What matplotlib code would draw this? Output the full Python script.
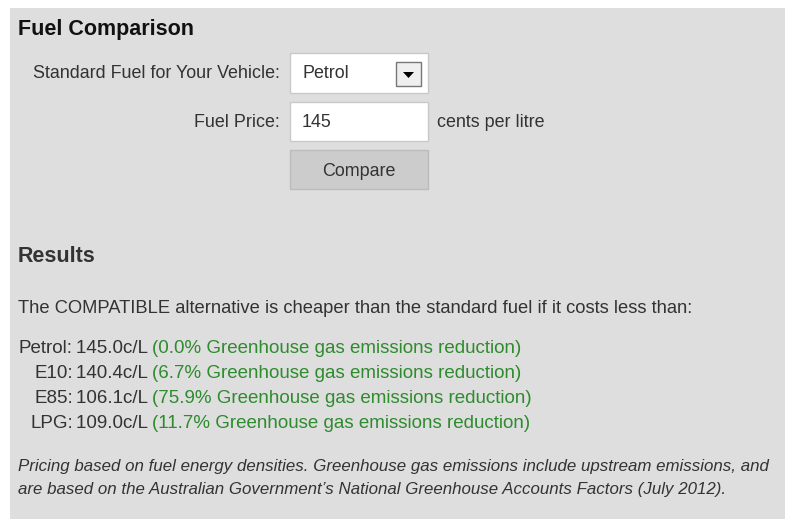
import matplotlib.pyplot as plt
from matplotlib.patches import Rectangle, Polygon

# form content
title = 'Fuel Comparison'
fuel_label = 'Standard Fuel for Your Vehicle:'
fuel_choice = 'Petrol'
price_label = 'Fuel Price:'
price_value = '145'
price_unit = 'cents per litre'
button_text = 'Compare'
results_title = 'Results'
intro = 'The COMPATIBLE alternative is cheaper than the standard fuel if it costs less than:'
fuels = ['Petrol', 'E10', 'E85', 'LPG']
prices = [145.0, 140.4, 106.1, 109.0]
reductions = [0.0, 6.7, 75.9, 11.7]
note = ["Pricing based on fuel energy densities. Greenhouse gas emissions include upstream emissions, and",
        "are based on the Australian Government\u2019s National Greenhouse Accounts Factors (July 2012)."]

W, H = 785, 519
txt = '#333333'
green = '#2e8b2e'
fs = 12.9
plt.rcParams['font.family'] = ['Liberation Sans', 'DejaVu Sans']

fig = plt.figure(figsize=(W / 100, H / 100), dpi=100)
ax = fig.add_axes([0, 0, 1, 1])
ax.set_xlim(0, W)
ax.set_ylim(H, 0)
ax.axis('off')

# grey panel
ax.add_patch(Rectangle((10, 8), W - 10, H - 8, facecolor='#dedede', edgecolor='none'))

ax.text(18, 35, title, fontsize=15.5, fontweight='bold', color='#111111', va='baseline')

# select box
ax.text(280, 78, fuel_label, fontsize=fs, color=txt, ha='right', va='baseline')
ax.add_patch(Rectangle((290, 53), 138, 40, facecolor='white', edgecolor='#c8c8c8', lw=1))
ax.text(302, 78, fuel_choice, fontsize=fs, color=txt, va='baseline')
ax.add_patch(Rectangle((396, 62), 25, 24, facecolor='#efefef', edgecolor='#777777', lw=1))
ax.add_patch(Polygon([(403, 72), (414, 72), (408.5, 78)], closed=True, facecolor='black', edgecolor='none'))

# price input
ax.text(280, 127, price_label, fontsize=fs, color=txt, ha='right', va='baseline')
ax.add_patch(Rectangle((290, 102), 138, 39, facecolor='white', edgecolor='#c8c8c8', lw=1))
ax.text(302, 127, price_value, fontsize=fs, color=txt, va='baseline')
ax.text(437, 127, price_unit, fontsize=fs, color=txt, va='baseline')

# button
ax.add_patch(Rectangle((290, 150), 138, 39, facecolor='#cccccc', edgecolor='#bbbbbb', lw=1))
ax.text(359, 176, button_text, fontsize=fs, color=txt, ha='center', va='baseline')

# results
ax.text(18, 262, results_title, fontsize=15.5, fontweight='bold', color=txt, va='baseline')
ax.text(18, 313, intro, fontsize=13.2, color=txt, va='baseline')

renderer = fig.canvas.get_renderer()
row_y = [353, 378, 403, 428]
for f, p, r, y in zip(fuels, prices, reductions, row_y):
    ax.text(73, y, f + ':', fontsize=13.5, color=txt, ha='right', va='baseline')
    t = ax.text(76, y, f'{p:.1f}c/L ', fontsize=13.5, color=txt, va='baseline')
    bb = t.get_window_extent(renderer)
    x_end = ax.transData.inverted().transform((bb.x1, bb.y0))[0]
    ax.text(x_end, y, f'({r:.1f}% Greenhouse gas emissions reduction)', fontsize=13.5, color=green, va='baseline')

for i, line in enumerate(note):
    ax.text(18, 471 + 23 * i, line, fontsize=12.2, style='italic', color=txt, va='baseline')

fig.savefig('out.png', dpi=100)
